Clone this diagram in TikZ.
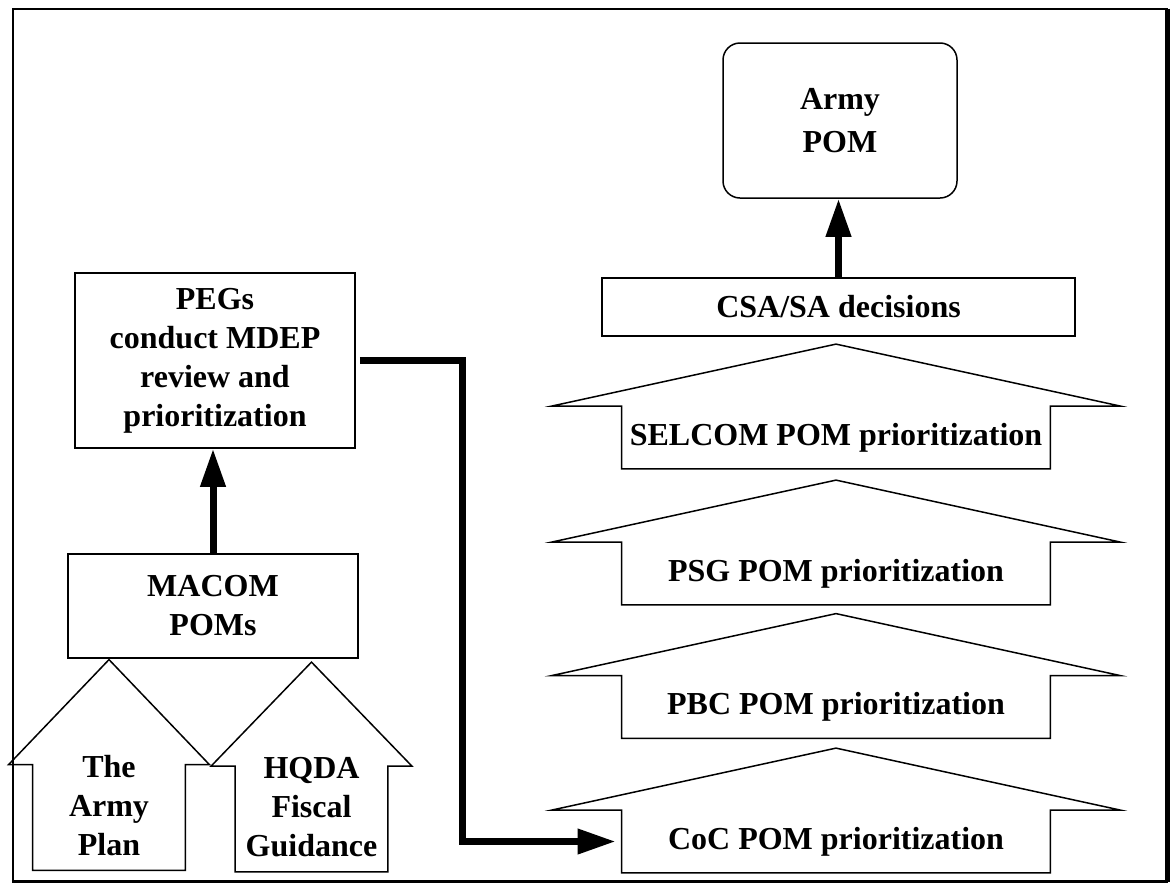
\documentclass[tikz,border=0pt]{standalone}
\usepackage{fontspec}
\setmainfont{Liberation Serif}
\usetikzlibrary{arrows.meta}

\tikzset{
  label font/.style={font=\bfseries\fontsize{16}{19.5}\selectfont},
  box/.style={draw,line width=0.75pt,align=center,inner sep=2pt,label font},
  body/.style={align=center,inner sep=0pt,label font,minimum width=214pt,minimum height=31pt},
  shed/.style={inner sep=0pt,minimum width=76pt,minimum height=52.5pt},
  flow/.style={line width=3.5pt,-{Triangle[length=19pt,width=12pt]}},
}
\newcommand{\roofline}[3]{\draw[line width=0.75pt] (#1.north west) -- ++(-#2,0) -- ([yshift=#3]#1.north) -- ([xshift=#2]#1.north east) -- (#1.north east) -- (#1.south east) -- (#1.south west) -- cycle;}

\begin{document}
\begin{tikzpicture}[x=0.5pt,y=-0.5pt]
	\useasboundingbox (0,0) rectangle (1171,884);
	\node[box,rounded corners=8.5pt,minimum width=117pt,minimum height=77.5pt,font=\bfseries\fontsize{16}{21.5}\selectfont] (armypom) at (840,120.5) {Army\\POM};
	\node[box,minimum width=236.5pt,minimum height=29pt] (csa) at (838.5,307) {CSA/SA decisions};
	\foreach \name/\y/\txt in {selcom/437.5/SELCOM,psg/573.5/PSG,pbc/707/PBC,coc/841.5/CoC}{
		\node[body] (\name) at (836,\y) {\txt\ POM prioritization};
		\roofline{\name}{35pt}{31pt}
	}
	\node[box,minimum width=140pt,minimum height=87.5pt] (pegs) at (215,360.5) {PEGs\\conduct MDEP\\review and\\prioritization};
	\node[box,minimum width=145pt,minimum height=52pt] (macom) at (213,606) {MACOM\\POMs};
	\node[shed] (armyplan) at (109,817.5) {};
	\roofline{armyplan}{12pt}{52.5pt}
	\node[align=center,label font] (armyplantext) at (109,806) {The\\Army\\Plan};
	\node[shed] (hqda) at (311.5,819) {};
	\roofline{hqda}{12pt}{52pt}
	\node[align=center,label font] (hqdatext) at (311.5,807) {HQDA\\Fiscal\\Guidance};
	\draw[flow] (csa.north) -- (csa.north |- armypom.south);
	\draw[flow] (macom.north) -- (macom.north |- pegs.south);
	\draw[flow,shorten <=2pt,shorten >=3pt] (pegs.east) -- ++(107,0) |- (coc.west);
	\draw[line width=1pt] (12.5,8.5) rectangle (1167,881.5);
	\draw[line width=2.5pt] (1167,8.5) -- (1167,881.5);
	\draw[line width=1.5pt] (12.5,881.5) -- (1167,881.5);
\end{tikzpicture}
\end{document}
